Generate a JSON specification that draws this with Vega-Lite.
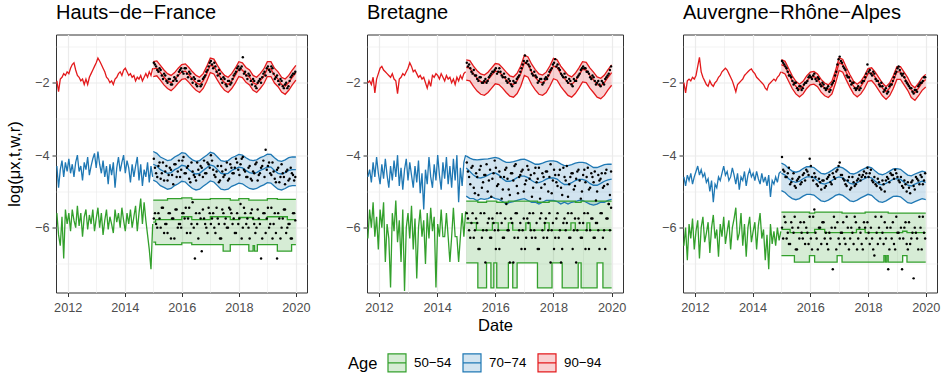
{
"$schema": "https://vega.github.io/schema/vega-lite/v6.json",
"padding": {"left": 6, "top": 2.5, "right": 2, "bottom": 2},
"config": {
 "font": "Liberation Sans",
 "view": {"stroke": "#333333", "strokeWidth": 1},
 "axis": {"domain": false, "grid": true, "gridColor": "#ebebeb", "ticks": true, "tickColor": "#333333", "tickSize": 4, "tickWidth": 1, "labelColor": "#4d4d4d", "labelFontSize": 12.7, "labelFont": "Liberation Sans", "labelOverlap": false, "labelFlush": false, "titleFont": "Liberation Sans", "titleFontSize": 16.5, "titleFontWeight": "normal", "titleColor": "#000000"},
 "title": {"anchor": "start", "fontSize": 20, "fontWeight": "normal", "font": "Liberation Sans", "color": "#000000", "offset": 11.5, "frame": "group"},
 "legend": {"labelFont": "Liberation Sans", "titleFont": "Liberation Sans"}
},
"spacing": 60,
"bounds": "flush",
"resolve": {"scale": {"color": "shared"}, "legend": {"color": "shared"}},
"datasets": {
"Hp": [
{"t":11.62,"g":-5.6,"b":-4.3,"r":-1.95},{"t":11.68,"g":-6.2,"b":-4.9,"r":-2.25},{"t":11.74,"g":-6.5,"b":-4.4,"r":-1.9},{"t":11.8,"g":-5.7,"b":-4.15,"r":-1.85},{"t":11.86,"g":-6.85,"b":-4.6,"r":-1.75},{"t":11.92,"g":-5.5,"b":-4.2,"r":-1.8},{"t":11.98,"g":-5.9,"b":-4.45,"r":-1.7},{"t":12.04,"g":-5.6,"b":-4.1,"r":-1.75},{"t":12.1,"g":-6.1,"b":-4.5,"r":-1.6},{"t":12.16,"g":-5.5,"b":-4.25,"r":-1.5},{"t":12.22,"g":-5.8,"b":-4.6,"r":-1.45},{"t":12.28,"g":-6,"b":-4.2,"r":-1.65},{"t":12.34,"g":-5.4,"b":-4,"r":-1.8},{"t":12.4,"g":-5.95,"b":-4.45,"r":-1.85},{"t":12.46,"g":-5.6,"b":-4.3,"r":-1.95},{"t":12.52,"g":-6.25,"b":-4.7,"r":-1.9},{"t":12.58,"g":-5.7,"b":-4.2,"r":-2.05},{"t":12.64,"g":-5.5,"b":-4.4,"r":-1.9},{"t":12.7,"g":-6.05,"b":-4.05,"r":-2.05},{"t":12.76,"g":-5.65,"b":-4.55,"r":-1.85},{"t":12.82,"g":-5.9,"b":-4.3,"r":-1.75},{"t":12.88,"g":-5.5,"b":-4.1,"r":-1.65},{"t":12.94,"g":-6.1,"b":-3.95,"r":-1.55},{"t":13,"g":-5.75,"b":-4.35,"r":-1.45},{"t":13.06,"g":-5.45,"b":-3.9,"r":-1.32},{"t":13.12,"g":-6,"b":-4.25,"r":-1.4},{"t":13.18,"g":-5.6,"b":-4.5,"r":-1.5},{"t":13.24,"g":-6.2,"b":-4.15,"r":-1.6},{"t":13.3,"g":-5.8,"b":-4.6,"r":-1.7},{"t":13.36,"g":-5.5,"b":-4.3,"r":-1.85},{"t":13.42,"g":-6.05,"b":-4.8,"r":-1.9},{"t":13.48,"g":-5.7,"b":-4.25,"r":-2},{"t":13.54,"g":-5.9,"b":-4.55,"r":-1.95},{"t":13.6,"g":-6.15,"b":-4.2,"r":-2.05},{"t":13.66,"g":-5.5,"b":-4.9,"r":-1.9},{"t":13.72,"g":-5.85,"b":-4.35,"r":-1.85},{"t":13.78,"g":-5.6,"b":-4.05,"r":-1.75},{"t":13.84,"g":-6,"b":-4.45,"r":-1.7},{"t":13.9,"g":-5.45,"b":-4.2,"r":-1.8},{"t":13.96,"g":-5.8,"b":-4,"r":-1.65},{"t":14.02,"g":-6.1,"b":-4.5,"r":-1.6},{"t":14.08,"g":-5.6,"b":-4.15,"r":-1.7},{"t":14.14,"g":-5.9,"b":-4.35,"r":-1.8},{"t":14.2,"g":-5.5,"b":-4.75,"r":-1.75},{"t":14.26,"g":-6,"b":-4.25,"r":-1.85},{"t":14.32,"g":-5.7,"b":-4.6,"r":-1.8},{"t":14.38,"g":-5.4,"b":-4.3,"r":-1.95},{"t":14.44,"g":-6.1,"b":-4.05,"r":-1.85},{"t":14.5,"g":-5.6,"b":-4.7,"r":-1.9},{"t":14.56,"g":-5.2,"b":-4.25,"r":-1.8},{"t":14.62,"g":-5.9,"b":-4.85,"r":-1.95},{"t":14.68,"g":-5.3,"b":-4.4,"r":-1.85},{"t":14.74,"g":-5.8,"b":-4.6,"r":-1.75},{"t":14.8,"g":-6.2,"b":-4.2,"r":-1.85},{"t":14.86,"g":-6.6,"b":-4.75,"r":-1.7},{"t":14.92,"g":-7.15,"b":-4.3,"r":-1.8},{"t":14.98,"g":-5.9,"b":-4.6,"r":-1.6}
],
"Hb": [
{"a":"r","t":15,"l":-1.83,"m":-1.62,"h":-1.42},{"a":"r","t":15.125,"l":-1.81,"m":-1.6,"h":-1.4},{"a":"r","t":15.25,"l":-1.93,"m":-1.72,"h":-1.52},{"a":"r","t":15.375,"l":-2.06,"m":-1.85,"h":-1.65},{"a":"r","t":15.5,"l":-2.16,"m":-1.95,"h":-1.75},{"a":"r","t":15.625,"l":-2.22,"m":-2,"h":-1.8},{"a":"r","t":15.75,"l":-2.13,"m":-1.92,"h":-1.72},{"a":"r","t":15.875,"l":-2.01,"m":-1.8,"h":-1.6},
{"a":"r","t":16,"l":-1.91,"m":-1.7,"h":-1.5},{"a":"r","t":16.125,"l":-1.89,"m":-1.68,"h":-1.48},{"a":"r","t":16.25,"l":-1.99,"m":-1.78,"h":-1.58},{"a":"r","t":16.375,"l":-2.11,"m":-1.9,"h":-1.7},{"a":"r","t":16.5,"l":-2.21,"m":-2,"h":-1.8},{"a":"r","t":16.625,"l":-2.27,"m":-2.05,"h":-1.85},{"a":"r","t":16.75,"l":-2.16,"m":-1.95,"h":-1.75},{"a":"r","t":16.875,"l":-1.96,"m":-1.75,"h":-1.55},
{"a":"r","t":17,"l":-1.72,"m":-1.52,"h":-1.32},{"a":"r","t":17.125,"l":-1.76,"m":-1.55,"h":-1.35},{"a":"r","t":17.25,"l":-1.93,"m":-1.72,"h":-1.52},{"a":"r","t":17.375,"l":-2.09,"m":-1.88,"h":-1.68},{"a":"r","t":17.5,"l":-2.21,"m":-2,"h":-1.8},{"a":"r","t":17.625,"l":-2.27,"m":-2.05,"h":-1.85},{"a":"r","t":17.75,"l":-2.16,"m":-1.95,"h":-1.75},{"a":"r","t":17.875,"l":-2.01,"m":-1.8,"h":-1.6},
{"a":"r","t":18,"l":-1.83,"m":-1.62,"h":-1.42},{"a":"r","t":18.125,"l":-1.86,"m":-1.65,"h":-1.45},{"a":"r","t":18.25,"l":-1.99,"m":-1.78,"h":-1.58},{"a":"r","t":18.375,"l":-2.06,"m":-1.85,"h":-1.65},{"a":"r","t":18.5,"l":-2.21,"m":-2,"h":-1.8},{"a":"r","t":18.625,"l":-2.27,"m":-2.05,"h":-1.85},{"a":"r","t":18.75,"l":-2.16,"m":-1.95,"h":-1.75},{"a":"r","t":18.875,"l":-2.03,"m":-1.82,"h":-1.62},
{"a":"r","t":19,"l":-1.83,"m":-1.62,"h":-1.42},{"a":"r","t":19.125,"l":-1.83,"m":-1.62,"h":-1.42},{"a":"r","t":19.25,"l":-2.01,"m":-1.8,"h":-1.6},{"a":"r","t":19.375,"l":-2.11,"m":-1.9,"h":-1.7},{"a":"r","t":19.5,"l":-2.26,"m":-2.05,"h":-1.85},{"a":"r","t":19.625,"l":-2.32,"m":-2.1,"h":-1.9},{"a":"r","t":19.75,"l":-2.21,"m":-2,"h":-1.8},{"a":"r","t":19.875,"l":-2.06,"m":-1.85,"h":-1.65},{"a":"r","t":20,"l":-1.93,"m":-1.72,"h":-1.52},
{"a":"b","t":15,"l":-4.69,"m":-4.25,"h":-3.9},{"a":"b","t":15.125,"l":-4.74,"m":-4.3,"h":-3.95},{"a":"b","t":15.25,"l":-4.84,"m":-4.4,"h":-4.05},{"a":"b","t":15.375,"l":-4.89,"m":-4.45,"h":-4.1},{"a":"b","t":15.5,"l":-4.94,"m":-4.5,"h":-4.15},{"a":"b","t":15.625,"l":-4.92,"m":-4.48,"h":-4.13},{"a":"b","t":15.75,"l":-4.84,"m":-4.4,"h":-4.05},{"a":"b","t":15.875,"l":-4.79,"m":-4.35,"h":-4},
{"a":"b","t":16,"l":-4.72,"m":-4.28,"h":-3.93},{"a":"b","t":16.125,"l":-4.74,"m":-4.3,"h":-3.95},{"a":"b","t":16.25,"l":-4.84,"m":-4.4,"h":-4.05},{"a":"b","t":16.375,"l":-4.92,"m":-4.48,"h":-4.13},{"a":"b","t":16.5,"l":-4.96,"m":-4.52,"h":-4.17},{"a":"b","t":16.625,"l":-4.94,"m":-4.5,"h":-4.15},{"a":"b","t":16.75,"l":-4.86,"m":-4.42,"h":-4.07},{"a":"b","t":16.875,"l":-4.79,"m":-4.35,"h":-4},
{"a":"b","t":17,"l":-4.71,"m":-4.27,"h":-3.92},{"a":"b","t":17.125,"l":-4.74,"m":-4.3,"h":-3.95},{"a":"b","t":17.25,"l":-4.84,"m":-4.4,"h":-4.05},{"a":"b","t":17.375,"l":-4.94,"m":-4.5,"h":-4.15},{"a":"b","t":17.5,"l":-4.96,"m":-4.52,"h":-4.17},{"a":"b","t":17.625,"l":-4.94,"m":-4.5,"h":-4.15},{"a":"b","t":17.75,"l":-4.86,"m":-4.42,"h":-4.07},{"a":"b","t":17.875,"l":-4.82,"m":-4.38,"h":-4.03},
{"a":"b","t":18,"l":-4.77,"m":-4.33,"h":-3.98},{"a":"b","t":18.125,"l":-4.79,"m":-4.35,"h":-4},{"a":"b","t":18.25,"l":-4.86,"m":-4.42,"h":-4.07},{"a":"b","t":18.375,"l":-4.92,"m":-4.48,"h":-4.13},{"a":"b","t":18.5,"l":-4.94,"m":-4.5,"h":-4.15},{"a":"b","t":18.625,"l":-4.92,"m":-4.48,"h":-4.13},{"a":"b","t":18.75,"l":-4.86,"m":-4.42,"h":-4.07},{"a":"b","t":18.875,"l":-4.82,"m":-4.38,"h":-4.03},
{"a":"b","t":19,"l":-4.76,"m":-4.32,"h":-3.97},{"a":"b","t":19.125,"l":-4.77,"m":-4.33,"h":-3.98},{"a":"b","t":19.25,"l":-4.86,"m":-4.42,"h":-4.07},{"a":"b","t":19.375,"l":-4.94,"m":-4.5,"h":-4.15},{"a":"b","t":19.5,"l":-4.96,"m":-4.52,"h":-4.17},{"a":"b","t":19.625,"l":-4.92,"m":-4.48,"h":-4.13},{"a":"b","t":19.75,"l":-4.86,"m":-4.42,"h":-4.07},{"a":"b","t":19.875,"l":-4.84,"m":-4.4,"h":-4.05},{"a":"b","t":20,"l":-4.84,"m":-4.4,"h":-4.05},
{"a":"g","t":15,"l":-6.4,"m":-5.85,"h":-5.24},{"a":"g","t":15.08,"l":-6.47,"m":-5.78,"h":-5.24},{"a":"g","t":15.5,"l":-6.47,"m":-5.78,"h":-5.2},{"a":"g","t":16,"l":-6.42,"m":-5.7,"h":-5.18},{"a":"g","t":16.35,"l":-6.47,"m":-5.78,"h":-5.22},{"a":"g","t":17,"l":-6.47,"m":-5.7,"h":-5.2},{"a":"g","t":17.45,"l":-6.65,"m":-5.7,"h":-5.2},{"a":"g","t":17.7,"l":-6.47,"m":-5.78,"h":-5.24},{"a":"g","t":18,"l":-6.47,"m":-5.72,"h":-5.2},{"a":"g","t":18.35,"l":-6.65,"m":-5.72,"h":-5.24},{"a":"g","t":18.5,"l":-6.5,"m":-5.78,"h":-5.24},{"a":"g","t":18.55,"l":-6.65,"m":-5.78,"h":-5.24},{"a":"g","t":18.65,"l":-6.47,"m":-5.78,"h":-5.24},{"a":"g","t":19,"l":-6.47,"m":-5.7,"h":-5.2},{"a":"g","t":19.35,"l":-6.65,"m":-5.7,"h":-5.22},{"a":"g","t":19.7,"l":-6.65,"m":-5.78,"h":-5.22},{"a":"g","t":19.85,"l":-6.47,"m":-5.78,"h":-5.22},{"a":"g","t":20,"l":-6.47,"m":-5.78,"h":-5.22}
],
"Hd": [
{"t":15.02,"g":-5.75,"b":-4.1,"r":-1.45},{"t":15.1,"g":-5.9,"b":-4.5,"r":-1.55},{"t":15.18,"g":-5.6,"b":-4.3,"r":-1.7},{"t":15.26,"g":-6,"b":-4.65,"r":-1.65},{"t":15.34,"g":-5.45,"b":-4.2,"r":-1.9},{"t":15.42,"g":-5.9,"b":-4.45,"r":-1.8},{"t":15.5,"g":-6.15,"b":-4.7,"r":-2},{"t":15.58,"g":-5.6,"b":-4.35,"r":-1.9},{"t":15.66,"g":-5.75,"b":-4.55,"r":-2.05},{"t":15.74,"g":-6.3,"b":-4.25,"r":-1.85},{"t":15.82,"g":-5.5,"b":-4.6,"r":-1.95},{"t":15.9,"g":-5.9,"b":-4.15,"r":-1.7},{"t":15.98,"g":-6,"b":-4.4,"r":-1.6},{"t":16.06,"g":-5.6,"b":-4.05,"r":-1.75},{"t":16.14,"g":-5.45,"b":-4.5,"r":-1.6},{"t":16.22,"g":-5.75,"b":-4.3,"r":-1.85},{"t":16.3,"g":-6.15,"b":-4.75,"r":-1.75},{"t":16.38,"g":-5.3,"b":-4.45,"r":-2},{"t":16.46,"g":-6.85,"b":-4.6,"r":-1.9},{"t":16.54,"g":-5.9,"b":-4.2,"r":-2.1},{"t":16.62,"g":-5.6,"b":-4.55,"r":-1.95},{"t":16.7,"g":-6.65,"b":-4.35,"r":-2.05},{"t":16.78,"g":-5.75,"b":-4.15,"r":-1.85},{"t":16.86,"g":-6,"b":-4.5,"r":-1.7},{"t":16.94,"g":-5.45,"b":-4.25,"r":-1.55},{"t":17.02,"g":-5.9,"b":-4,"r":-1.4},{"t":17.1,"g":-5.6,"b":-4.4,"r":-1.6},{"t":17.18,"g":-6.15,"b":-4.6,"r":-1.55},{"t":17.26,"g":-5.75,"b":-4.3,"r":-1.8},{"t":17.34,"g":-6.3,"b":-4.7,"r":-1.75},{"t":17.42,"g":-5.5,"b":-4.45,"r":-2},{"t":17.5,"g":-5.9,"b":-4.55,"r":-1.9},{"t":17.58,"g":-6,"b":-4.2,"r":-2.1},{"t":17.66,"g":-5.45,"b":-4.65,"r":-1.95},{"t":17.74,"g":-5.6,"b":-4.35,"r":-2},{"t":17.82,"g":-5.75,"b":-4.5,"r":-1.8},{"t":17.9,"g":-6.15,"b":-4.1,"r":-1.7},{"t":17.98,"g":-5.9,"b":-4.4,"r":-1.55},{"t":18.06,"g":-5.35,"b":-4.25,"r":-1.6},{"t":18.14,"g":-6,"b":-4.05,"r":-1.3},{"t":18.22,"g":-5.6,"b":-4.45,"r":-1.7},{"t":18.3,"g":-5.75,"b":-4.6,"r":-1.9},{"t":18.38,"g":-6.3,"b":-4.3,"r":-1.8},{"t":18.46,"g":-5.5,"b":-4.7,"r":-2.05},{"t":18.54,"g":-5.9,"b":-4.5,"r":-1.95},{"t":18.62,"g":-6,"b":-4.2,"r":-2.15},{"t":18.7,"g":-5.75,"b":-4.55,"r":-1.95},{"t":18.78,"g":-6.85,"b":-4.35,"r":-2},{"t":18.86,"g":-5.6,"b":-4.15,"r":-1.75},{"t":18.94,"g":-6.15,"b":-3.85,"r":-1.8},{"t":19.02,"g":-5.45,"b":-4.3,"r":-1.55},{"t":19.1,"g":-5.9,"b":-4.5,"r":-1.7},{"t":19.18,"g":-6.3,"b":-4.2,"r":-1.6},{"t":19.26,"g":-5.6,"b":-4.65,"r":-1.9},{"t":19.34,"g":-6.85,"b":-4.4,"r":-1.8},{"t":19.42,"g":-5.75,"b":-4.75,"r":-2.05},{"t":19.5,"g":-6,"b":-4.25,"r":-1.95},{"t":19.58,"g":-5.5,"b":-4.6,"r":-2.15},{"t":19.66,"g":-6.15,"b":-4.45,"r":-2},{"t":19.74,"g":-5.9,"b":-4.7,"r":-2.1},{"t":19.82,"g":-6.3,"b":-4.35,"r":-1.85},{"t":19.9,"g":-5.6,"b":-4.55,"r":-1.75},{"t":19.98,"g":-5.8,"b":-4.6,"r":-1.7},
{"t":15.06,"g":-5.6,"b":-4.35,"r":-1.5},{"t":15.14,"g":-6,"b":-4.6,"r":-1.65},{"t":15.22,"g":-5.75,"b":-4.2,"r":-1.6},{"t":15.3,"g":-5.45,"b":-4.5,"r":-1.8},{"t":15.38,"g":-6.15,"b":-4.7,"r":-1.75},{"t":15.46,"g":-5.9,"b":-4.3,"r":-1.95},{"t":15.54,"g":-5.6,"b":-4.55,"r":-1.9},{"t":15.62,"g":-6.3,"b":-4.4,"r":-2.05},{"t":15.7,"g":-5.75,"b":-4.8,"r":-1.95},{"t":15.78,"g":-5.5,"b":-4.25,"r":-1.9},{"t":15.86,"g":-6,"b":-4.45,"r":-1.8},{"t":15.94,"g":-5.9,"b":-4.6,"r":-1.65},{"t":16.02,"g":-5.6,"b":-4.15,"r":-1.7},{"t":16.1,"g":-5.75,"b":-4.5,"r":-1.6},{"t":16.18,"g":-6.15,"b":-4.35,"r":-1.75},{"t":16.26,"g":-5.45,"b":-4.65,"r":-1.7},{"t":16.34,"g":-5.9,"b":-4.2,"r":-1.9},{"t":16.42,"g":-6,"b":-4.55,"r":-1.85},{"t":16.5,"g":-5.6,"b":-4.7,"r":-2.05},{"t":16.58,"g":-6.3,"b":-4.4,"r":-1.95},{"t":16.66,"g":-5.75,"b":-4.3,"r":-2.1},{"t":16.74,"g":-5.5,"b":-4.6,"r":-1.9},{"t":16.82,"g":-5.9,"b":-4.5,"r":-1.8},{"t":16.9,"g":-6.15,"b":-4.2,"r":-1.65},{"t":16.98,"g":-5.6,"b":-4.35,"r":-1.45},{"t":17.06,"g":-5.75,"b":-4.15,"r":-1.5},{"t":17.14,"g":-6,"b":-4.55,"r":-1.45},{"t":17.22,"g":-5.45,"b":-4.45,"r":-1.7},{"t":17.3,"g":-5.9,"b":-4.75,"r":-1.65},{"t":17.38,"g":-6.3,"b":-4.3,"r":-1.9},{"t":17.46,"g":-5.6,"b":-4.6,"r":-1.85},{"t":17.54,"g":-5.75,"b":-4.4,"r":-2.05},{"t":17.62,"g":-6,"b":-4.7,"r":-1.95},{"t":17.7,"g":-5.5,"b":-4.25,"r":-2.05},{"t":17.78,"g":-5.9,"b":-4.5,"r":-1.9},{"t":17.86,"g":-6.15,"b":-4.35,"r":-1.75},{"t":17.94,"g":-5.6,"b":-4.2,"r":-1.6},{"t":18.02,"g":-5.75,"b":-4.55,"r":-1.65},{"t":18.1,"g":-6.3,"b":-4.1,"r":-1.55},{"t":18.18,"g":-5.45,"b":-4.4,"r":-1.75},{"t":18.26,"g":-5.9,"b":-4.6,"r":-1.8},{"t":18.34,"g":-6,"b":-4.35,"r":-1.75},{"t":18.42,"g":-5.6,"b":-4.65,"r":-1.95},{"t":18.5,"g":-5.75,"b":-4.45,"r":-1.9},{"t":18.58,"g":-6.15,"b":-4.25,"r":-2.1},{"t":18.66,"g":-5.5,"b":-4.7,"r":-2},{"t":18.74,"g":-5.9,"b":-4.5,"r":-1.9},{"t":18.82,"g":-6.3,"b":-4.3,"r":-1.85},{"t":18.9,"g":-5.6,"b":-4.6,"r":-1.7},{"t":18.98,"g":-5.75,"b":-4.4,"r":-1.6},{"t":19.06,"g":-6,"b":-4.2,"r":-1.65},{"t":19.14,"g":-5.45,"b":-4.55,"r":-1.55},{"t":19.22,"g":-5.9,"b":-4.45,"r":-1.75},{"t":19.3,"g":-6.15,"b":-4.75,"r":-1.85},{"t":19.38,"g":-5.6,"b":-4.35,"r":-1.95},{"t":19.46,"g":-6.3,"b":-4.6,"r":-1.9},{"t":19.54,"g":-5.75,"b":-4.5,"r":-2.1},{"t":19.62,"g":-5.5,"b":-4.8,"r":-2.05},{"t":19.7,"g":-6,"b":-4.4,"r":-2.15},{"t":19.78,"g":-5.9,"b":-4.65,"r":-1.95},{"t":19.86,"g":-6.3,"b":-4.5,"r":-1.8},{"t":19.94,"g":-5.6,"b":-4.7,"r":-1.75}
],
"Bp": [
{"t":11.62,"g":-6.3,"b":-4.6,"r":-2},{"t":11.68,"g":-5.5,"b":-4.4,"r":-1.95},{"t":11.74,"g":-6,"b":-4.75,"r":-2.05},{"t":11.8,"g":-5.3,"b":-4.2,"r":-1.85},{"t":11.86,"g":-6.25,"b":-4.6,"r":-2.28},{"t":11.92,"g":-5.7,"b":-4.05,"r":-1.9},{"t":11.98,"g":-6.6,"b":-4.5,"r":-1.75},{"t":12.04,"g":-5.5,"b":-4.8,"r":-1.6},{"t":12.1,"g":-6,"b":-4.25,"r":-1.55},{"t":12.16,"g":-5.3,"b":-4.65,"r":-1.65},{"t":12.22,"g":-6.95,"b":-4.1,"r":-1.7},{"t":12.28,"g":-5.9,"b":-4.55,"r":-1.75},{"t":12.34,"g":-6.3,"b":-4.9,"r":-1.8},{"t":12.4,"g":-7.65,"b":-4.3,"r":-1.85},{"t":12.46,"g":-5.6,"b":-4.7,"r":-1.75},{"t":12.52,"g":-6.1,"b":-4.15,"r":-1.9},{"t":12.58,"g":-5.25,"b":-4.6,"r":-1.95},{"t":12.64,"g":-6.4,"b":-4,"r":-2.3},{"t":12.7,"g":-5.8,"b":-4.85,"r":-1.9},{"t":12.76,"g":-6.95,"b":-4.35,"r":-1.85},{"t":12.82,"g":-5.5,"b":-4.95,"r":-1.75},{"t":12.88,"g":-7.75,"b":-4.4,"r":-1.8},{"t":12.94,"g":-6,"b":-4.1,"r":-1.7},{"t":13,"g":-5.6,"b":-4.7,"r":-1.6},{"t":13.06,"g":-6.3,"b":-4.2,"r":-1.45},{"t":13.12,"g":-5.4,"b":-4.55,"r":-1.55},{"t":13.18,"g":-6.6,"b":-4.9,"r":-1.7},{"t":13.24,"g":-5.75,"b":-4.3,"r":-1.65},{"t":13.3,"g":-7.4,"b":-4.75,"r":-1.75},{"t":13.36,"g":-6,"b":-4.15,"r":-1.85},{"t":13.42,"g":-5.5,"b":-5.05,"r":-1.8},{"t":13.48,"g":-6.25,"b":-4.5,"r":-1.9},{"t":13.54,"g":-5.8,"b":-5.5,"r":-1.85},{"t":13.6,"g":-7,"b":-4.4,"r":-2},{"t":13.66,"g":-5.6,"b":-4.8,"r":-2.15},{"t":13.72,"g":-6.3,"b":-4.05,"r":-1.95},{"t":13.78,"g":-5.45,"b":-4.6,"r":-2.1},{"t":13.84,"g":-6.1,"b":-4.9,"r":-1.8},{"t":13.9,"g":-5.7,"b":-4.25,"r":-1.85},{"t":13.96,"g":-7.65,"b":-4.7,"r":-1.75},{"t":14.02,"g":-5.9,"b":-4,"r":-1.8},{"t":14.08,"g":-6.25,"b":-4.55,"r":-1.9},{"t":14.14,"g":-5.5,"b":-4.95,"r":-1.75},{"t":14.2,"g":-6.25,"b":-4.2,"r":-1.85},{"t":14.26,"g":-6.25,"b":-4.65,"r":-1.95},{"t":14.32,"g":-5.6,"b":-4.05,"r":-1.8},{"t":14.38,"g":-6.25,"b":-4.8,"r":-1.9},{"t":14.44,"g":-6.95,"b":-4.3,"r":-1.85},{"t":14.5,"g":-6.25,"b":-4.9,"r":-2},{"t":14.56,"g":-5.45,"b":-4.1,"r":-1.9},{"t":14.62,"g":-6.25,"b":-4.7,"r":-2.05},{"t":14.68,"g":-6.25,"b":-4,"r":-1.85},{"t":14.74,"g":-6.95,"b":-5.3,"r":-1.95},{"t":14.8,"g":-6.25,"b":-4.35,"r":-1.8},{"t":14.86,"g":-5.6,"b":-4.85,"r":-1.9},{"t":14.92,"g":-6.25,"b":-4.2,"r":-1.75},{"t":14.98,"g":-5.55,"b":-4,"r":-1.7}
],
"Bb": [
{"a":"r","t":15,"l":-1.93,"m":-1.58,"h":-1.37},{"a":"r","t":15.125,"l":-1.95,"m":-1.6,"h":-1.39},{"a":"r","t":15.25,"l":-2.1,"m":-1.75,"h":-1.54},{"a":"r","t":15.375,"l":-2.23,"m":-1.88,"h":-1.67},{"a":"r","t":15.5,"l":-2.32,"m":-1.97,"h":-1.76},{"a":"r","t":15.625,"l":-2.35,"m":-2,"h":-1.79},{"a":"r","t":15.75,"l":-2.27,"m":-1.92,"h":-1.71},{"a":"r","t":15.875,"l":-2.15,"m":-1.8,"h":-1.59},
{"a":"r","t":16,"l":-2.03,"m":-1.68,"h":-1.47},{"a":"r","t":16.125,"l":-2.05,"m":-1.7,"h":-1.49},{"a":"r","t":16.25,"l":-2.15,"m":-1.8,"h":-1.59},{"a":"r","t":16.375,"l":-2.27,"m":-1.92,"h":-1.71},{"a":"r","t":16.5,"l":-2.37,"m":-2.02,"h":-1.81},{"a":"r","t":16.625,"l":-2.4,"m":-2.05,"h":-1.84},{"a":"r","t":16.75,"l":-2.3,"m":-1.95,"h":-1.74},{"a":"r","t":16.875,"l":-2.1,"m":-1.75,"h":-1.54},
{"a":"r","t":17,"l":-1.8,"m":-1.45,"h":-1.24},{"a":"r","t":17.125,"l":-1.85,"m":-1.5,"h":-1.29},{"a":"r","t":17.25,"l":-2.05,"m":-1.7,"h":-1.49},{"a":"r","t":17.375,"l":-2.2,"m":-1.85,"h":-1.64},{"a":"r","t":17.5,"l":-2.32,"m":-1.97,"h":-1.76},{"a":"r","t":17.625,"l":-2.35,"m":-2,"h":-1.79},{"a":"r","t":17.75,"l":-2.27,"m":-1.92,"h":-1.71},{"a":"r","t":17.875,"l":-2.1,"m":-1.75,"h":-1.54},
{"a":"r","t":18,"l":-1.89,"m":-1.54,"h":-1.33},{"a":"r","t":18.125,"l":-1.93,"m":-1.58,"h":-1.37},{"a":"r","t":18.25,"l":-2.1,"m":-1.75,"h":-1.54},{"a":"r","t":18.375,"l":-2.23,"m":-1.88,"h":-1.67},{"a":"r","t":18.5,"l":-2.35,"m":-2,"h":-1.79},{"a":"r","t":18.625,"l":-2.4,"m":-2.05,"h":-1.84},{"a":"r","t":18.75,"l":-2.3,"m":-1.95,"h":-1.74},{"a":"r","t":18.875,"l":-2.15,"m":-1.8,"h":-1.59},
{"a":"r","t":19,"l":-1.98,"m":-1.63,"h":-1.42},{"a":"r","t":19.125,"l":-2,"m":-1.65,"h":-1.44},{"a":"r","t":19.25,"l":-2.15,"m":-1.8,"h":-1.59},{"a":"r","t":19.375,"l":-2.27,"m":-1.92,"h":-1.71},{"a":"r","t":19.5,"l":-2.4,"m":-2.05,"h":-1.84},{"a":"r","t":19.625,"l":-2.44,"m":-2.09,"h":-1.88},{"a":"r","t":19.75,"l":-2.35,"m":-2,"h":-1.79},{"a":"r","t":19.875,"l":-2.2,"m":-1.85,"h":-1.64},{"a":"r","t":20,"l":-2.07,"m":-1.72,"h":-1.51},
{"a":"b","t":15,"l":-5.13,"m":-4.35,"h":-4.02},{"a":"b","t":15.125,"l":-5.2,"m":-4.45,"h":-4.08},{"a":"b","t":15.25,"l":-5.2,"m":-4.55,"h":-4.12},{"a":"b","t":15.375,"l":-5.25,"m":-4.62,"h":-4.13},{"a":"b","t":15.5,"l":-5.2,"m":-4.63,"h":-4.12},{"a":"b","t":15.625,"l":-5.22,"m":-4.6,"h":-4.11},{"a":"b","t":15.75,"l":-5.2,"m":-4.55,"h":-4.1},{"a":"b","t":15.875,"l":-5.15,"m":-4.5,"h":-4.08},
{"a":"b","t":16,"l":-5.2,"m":-4.49,"h":-4.06},{"a":"b","t":16.125,"l":-5.22,"m":-4.55,"h":-4.09},{"a":"b","t":16.25,"l":-5.28,"m":-4.65,"h":-4.15},{"a":"b","t":16.375,"l":-5.35,"m":-4.72,"h":-4.2},{"a":"b","t":16.5,"l":-5.3,"m":-4.72,"h":-4.2},{"a":"b","t":16.625,"l":-5.28,"m":-4.68,"h":-4.18},{"a":"b","t":16.75,"l":-5.25,"m":-4.62,"h":-4.15},{"a":"b","t":16.875,"l":-5.22,"m":-4.58,"h":-4.12},
{"a":"b","t":17,"l":-5.2,"m":-4.58,"h":-4.11},{"a":"b","t":17.125,"l":-5.25,"m":-4.62,"h":-4.15},{"a":"b","t":17.25,"l":-5.3,"m":-4.7,"h":-4.2},{"a":"b","t":17.375,"l":-5.3,"m":-4.76,"h":-4.25},{"a":"b","t":17.5,"l":-5.35,"m":-4.76,"h":-4.25},{"a":"b","t":17.625,"l":-5.3,"m":-4.72,"h":-4.22},{"a":"b","t":17.75,"l":-5.25,"m":-4.66,"h":-4.18},{"a":"b","t":17.875,"l":-5.25,"m":-4.63,"h":-4.16},
{"a":"b","t":18,"l":-5.25,"m":-4.63,"h":-4.16},{"a":"b","t":18.125,"l":-5.28,"m":-4.66,"h":-4.18},{"a":"b","t":18.25,"l":-5.35,"m":-4.75,"h":-4.24},{"a":"b","t":18.375,"l":-5.3,"m":-4.81,"h":-4.29},{"a":"b","t":18.5,"l":-5.35,"m":-4.81,"h":-4.29},{"a":"b","t":18.625,"l":-5.3,"m":-4.76,"h":-4.26},{"a":"b","t":18.75,"l":-5.28,"m":-4.7,"h":-4.22},{"a":"b","t":18.875,"l":-5.25,"m":-4.67,"h":-4.2},
{"a":"b","t":19,"l":-5.25,"m":-4.67,"h":-4.2},{"a":"b","t":19.125,"l":-5.3,"m":-4.7,"h":-4.22},{"a":"b","t":19.25,"l":-5.35,"m":-4.78,"h":-4.28},{"a":"b","t":19.375,"l":-5.38,"m":-4.83,"h":-4.34},{"a":"b","t":19.5,"l":-5.35,"m":-4.83,"h":-4.34},{"a":"b","t":19.625,"l":-5.3,"m":-4.78,"h":-4.3},{"a":"b","t":19.75,"l":-5.3,"m":-4.72,"h":-4.26},{"a":"b","t":19.875,"l":-5.25,"m":-4.68,"h":-4.25},{"a":"b","t":20,"l":-5.22,"m":-4.66,"h":-4.25},
{"a":"g","t":15,"l":-6.97,"m":-5.87,"h":-5.27},{"a":"g","t":15.35,"l":-6.97,"m":-6.07,"h":-5.27},{"a":"g","t":15.4,"l":-7.66,"m":-6.07,"h":-5.3},{"a":"g","t":15.7,"l":-6.97,"m":-6.07,"h":-5.27},{"a":"g","t":15.85,"l":-7.66,"m":-6.07,"h":-5.27},{"a":"g","t":15.9,"l":-7.66,"m":-5.87,"h":-5.27},{"a":"g","t":15.95,"l":-6.97,"m":-5.87,"h":-5.27},{"a":"g","t":16.05,"l":-7.66,"m":-5.87,"h":-5.3},{"a":"g","t":16.1,"l":-7.66,"m":-6.07,"h":-5.3},{"a":"g","t":16.45,"l":-6.97,"m":-5.87,"h":-5.27},{"a":"g","t":16.6,"l":-7.66,"m":-6.07,"h":-5.27},{"a":"g","t":16.75,"l":-6.97,"m":-6.07,"h":-5.27},{"a":"g","t":17.05,"l":-6.97,"m":-5.87,"h":-5.27},{"a":"g","t":17.2,"l":-6.97,"m":-6.07,"h":-5.27},{"a":"g","t":17.45,"l":-7.66,"m":-6.07,"h":-5.3},{"a":"g","t":17.7,"l":-7.66,"m":-5.87,"h":-5.3},{"a":"g","t":17.85,"l":-7.66,"m":-6.07,"h":-5.27},{"a":"g","t":17.95,"l":-6.97,"m":-6.07,"h":-5.27},{"a":"g","t":18.3,"l":-7.66,"m":-6.07,"h":-5.27},{"a":"g","t":18.6,"l":-7.66,"m":-5.87,"h":-5.27},{"a":"g","t":18.75,"l":-7.66,"m":-6.07,"h":-5.3},{"a":"g","t":18.85,"l":-6.97,"m":-6.07,"h":-5.3},{"a":"g","t":18.95,"l":-7.66,"m":-6.07,"h":-5.27},{"a":"g","t":19.15,"l":-7.66,"m":-5.87,"h":-5.27},{"a":"g","t":19.25,"l":-7.66,"m":-6.07,"h":-5.27},{"a":"g","t":19.5,"l":-6.97,"m":-6.07,"h":-5.27},{"a":"g","t":19.7,"l":-7.66,"m":-6.07,"h":-5.27},{"a":"g","t":20,"l":-7.66,"m":-6.07,"h":-5.27}
],
"Bd": [
{"t":15.02,"g":-5.6,"b":-4.2,"r":-1.45},{"t":15.1,"g":-6.07,"b":-4.6,"r":-1.5},{"t":15.18,"g":-5.87,"b":-4.35,"r":-1.7},{"t":15.26,"g":-6.28,"b":-4.9,"r":-1.65},{"t":15.34,"g":-5.75,"b":-4.5,"r":-1.8},{"t":15.42,"g":-6.59,"b":-5.1,"r":-1.95},{"t":15.5,"g":-5.6,"b":-4.3,"r":-1.85},{"t":15.58,"g":-6.07,"b":-4.75,"r":-2},{"t":15.66,"g":-6.96,"b":-4.55,"r":-1.9},{"t":15.74,"g":-5.87,"b":-5,"r":-1.95},{"t":15.82,"g":-6.28,"b":-4.4,"r":-1.8},{"t":15.9,"g":-5.75,"b":-4.65,"r":-1.7},{"t":15.98,"g":-6.07,"b":-4.15,"r":-1.65},{"t":16.06,"g":-5.6,"b":-4.85,"r":-1.75},{"t":16.14,"g":-6.59,"b":-4.45,"r":-1.6},{"t":16.22,"g":-5.87,"b":-5.2,"r":-1.8},{"t":16.3,"g":-6.28,"b":-4.6,"r":-1.75},{"t":16.38,"g":-5.35,"b":-4.35,"r":-1.95},{"t":16.46,"g":-6.07,"b":-4.95,"r":-1.9},{"t":16.54,"g":-5.75,"b":-4.5,"r":-2.05},{"t":16.62,"g":-6.96,"b":-4.7,"r":-1.95},{"t":16.7,"g":-5.6,"b":-4.25,"r":-2},{"t":16.78,"g":-6.28,"b":-5.05,"r":-1.85},{"t":16.86,"g":-5.87,"b":-4.55,"r":-1.7},{"t":16.94,"g":-6.07,"b":-4.4,"r":-1.5},{"t":17.02,"g":-6.59,"b":-4.8,"r":-1.25},{"t":17.1,"g":-5.75,"b":-4.3,"r":-1.4},{"t":17.18,"g":-5.6,"b":-4.65,"r":-1.55},{"t":17.26,"g":-6.28,"b":-5.15,"r":-1.75},{"t":17.34,"g":-6.07,"b":-4.5,"r":-1.7},{"t":17.42,"g":-5.87,"b":-4.75,"r":-1.85},{"t":17.5,"g":-6.59,"b":-4.35,"r":-1.95},{"t":17.58,"g":-5.6,"b":-4.9,"r":-1.9},{"t":17.66,"g":-6.28,"b":-4.6,"r":-2},{"t":17.74,"g":-5.75,"b":-4.45,"r":-1.85},{"t":17.82,"g":-6.07,"b":-5,"r":-1.8},{"t":17.9,"g":-6.96,"b":-4.25,"r":-1.65},{"t":17.98,"g":-5.87,"b":-4.7,"r":-1.5},{"t":18.06,"g":-6.28,"b":-4.55,"r":-1.35},{"t":18.14,"g":-5.6,"b":-4.85,"r":-1.5},{"t":18.22,"g":-6.07,"b":-4.4,"r":-1.65},{"t":18.3,"g":-6.59,"b":-5.1,"r":-1.8},{"t":18.38,"g":-5.75,"b":-4.6,"r":-1.75},{"t":18.46,"g":-5.87,"b":-4.3,"r":-1.95},{"t":18.54,"g":-6.28,"b":-4.8,"r":-1.9},{"t":18.62,"g":-5.6,"b":-4.5,"r":-2.05},{"t":18.7,"g":-6.07,"b":-4.95,"r":-1.9},{"t":18.78,"g":-6.96,"b":-4.65,"r":-1.95},{"t":18.86,"g":-5.75,"b":-4.4,"r":-1.8},{"t":18.94,"g":-6.28,"b":-5.2,"r":-1.65},{"t":19.02,"g":-5.87,"b":-4.55,"r":-1.55},{"t":19.1,"g":-6.59,"b":-4.75,"r":-1.6},{"t":19.18,"g":-5.6,"b":-4.35,"r":-1.7},{"t":19.26,"g":-6.07,"b":-4.9,"r":-1.85},{"t":19.34,"g":-5.75,"b":-4.6,"r":-1.8},{"t":19.42,"g":-6.28,"b":-4.45,"r":-1.95},{"t":19.5,"g":-5.87,"b":-5,"r":-2},{"t":19.58,"g":-6.59,"b":-4.7,"r":-2.05},{"t":19.66,"g":-5.6,"b":-4.5,"r":-1.95},{"t":19.74,"g":-6.07,"b":-4.85,"r":-2.05},{"t":19.82,"g":-5.75,"b":-4.4,"r":-1.85},{"t":19.9,"g":-5.35,"b":-5.35,"r":-1.75},{"t":19.98,"g":-5.45,"b":-4.45,"r":-1.55},
{"t":15.06,"g":-5.75,"b":-4.45,"r":-1.55},{"t":15.14,"g":-6.28,"b":-4.8,"r":-1.6},{"t":15.22,"g":-5.6,"b":-4.3,"r":-1.75},{"t":15.3,"g":-6.07,"b":-5.05,"r":-1.8},{"t":15.38,"g":-5.87,"b":-4.6,"r":-1.9},{"t":15.46,"g":-6.59,"b":-4.4,"r":-1.85},{"t":15.54,"g":-6.28,"b":-4.9,"r":-2},{"t":15.62,"g":-5.6,"b":-4.55,"r":-1.95},{"t":15.7,"g":-6.07,"b":-4.25,"r":-2},{"t":15.78,"g":-5.75,"b":-4.7,"r":-1.85},{"t":15.86,"g":-6.28,"b":-5.15,"r":-1.75},{"t":15.94,"g":-5.87,"b":-4.5,"r":-1.7},{"t":16.02,"g":-6.59,"b":-4.35,"r":-1.6},{"t":16.1,"g":-6.07,"b":-4.8,"r":-1.7},{"t":16.18,"g":-5.6,"b":-4.6,"r":-1.7},{"t":16.26,"g":-6.28,"b":-4.95,"r":-1.85},{"t":16.34,"g":-5.75,"b":-4.4,"r":-1.85},{"t":16.42,"g":-6.07,"b":-4.65,"r":-2},{"t":16.5,"g":-6.96,"b":-5.1,"r":-1.95},{"t":16.58,"g":-5.87,"b":-4.5,"r":-2.1},{"t":16.66,"g":-6.28,"b":-4.3,"r":-2},{"t":16.74,"g":-5.6,"b":-4.85,"r":-1.9},{"t":16.82,"g":-6.07,"b":-4.6,"r":-1.8},{"t":16.9,"g":-6.59,"b":-4.45,"r":-1.6},{"t":16.98,"g":-5.75,"b":-5,"r":-1.4},{"t":17.06,"g":-6.28,"b":-4.7,"r":-1.45},{"t":17.14,"g":-5.87,"b":-4.4,"r":-1.5},{"t":17.22,"g":-6.07,"b":-4.55,"r":-1.65},{"t":17.3,"g":-5.6,"b":-4.9,"r":-1.8},{"t":17.38,"g":-6.28,"b":-4.35,"r":-1.8},{"t":17.46,"g":-6.59,"b":-4.65,"r":-2},{"t":17.54,"g":-5.75,"b":-5.2,"r":-1.9},{"t":17.62,"g":-6.07,"b":-4.5,"r":-2.05},{"t":17.7,"g":-5.87,"b":-4.8,"r":-1.9},{"t":17.78,"g":-6.28,"b":-4.45,"r":-1.9},{"t":17.86,"g":-5.6,"b":-4.6,"r":-1.7},{"t":17.94,"g":-6.07,"b":-5.05,"r":-1.6},{"t":18.02,"g":-6.59,"b":-4.4,"r":-1.45},{"t":18.1,"g":-5.75,"b":-4.75,"r":-1.55},{"t":18.18,"g":-6.28,"b":-4.55,"r":-1.6},{"t":18.26,"g":-6.96,"b":-4.9,"r":-1.75},{"t":18.34,"g":-5.87,"b":-4.35,"r":-1.85},{"t":18.42,"g":-6.07,"b":-4.7,"r":-1.85},{"t":18.5,"g":-5.6,"b":-5.15,"r":-2},{"t":18.58,"g":-6.28,"b":-4.6,"r":-1.95},{"t":18.66,"g":-6.59,"b":-4.5,"r":-2.1},{"t":18.74,"g":-5.75,"b":-4.85,"r":-1.95},{"t":18.82,"g":-6.07,"b":-4.45,"r":-1.85},{"t":18.9,"g":-5.87,"b":-4.7,"r":-1.75},{"t":18.98,"g":-6.28,"b":-5,"r":-1.6},{"t":19.06,"g":-5.6,"b":-4.4,"r":-1.6},{"t":19.14,"g":-6.07,"b":-4.6,"r":-1.7},{"t":19.22,"g":-6.59,"b":-4.95,"r":-1.75},{"t":19.3,"g":-5.75,"b":-4.5,"r":-1.9},{"t":19.38,"g":-6.28,"b":-4.75,"r":-1.85},{"t":19.46,"g":-5.87,"b":-5.25,"r":-2.05},{"t":19.54,"g":-6.07,"b":-4.55,"r":-1.95},{"t":19.62,"g":-5.6,"b":-4.65,"r":-2.1},{"t":19.7,"g":-6.28,"b":-4.9,"r":-2},{"t":19.78,"g":-6.59,"b":-4.5,"r":-1.9},{"t":19.86,"g":-5.75,"b":-4.8,"r":-1.8},{"t":19.94,"g":-6.07,"b":-5.1,"r":-1.65}
],
"Ap": [
{"t":11.62,"g":-6.5,"b":-4.6,"r":-2},{"t":11.68,"g":-6,"b":-4.85,"r":-2.28},{"t":11.74,"g":-6.9,"b":-4.55,"r":-1.95},{"t":11.8,"g":-5.9,"b":-4.7,"r":-1.9},{"t":11.86,"g":-6.3,"b":-4.5,"r":-1.95},{"t":11.92,"g":-5.75,"b":-4.8,"r":-1.85},{"t":11.98,"g":-6.6,"b":-4.6,"r":-1.9},{"t":12.04,"g":-6.1,"b":-4.45,"r":-1.8},{"t":12.1,"g":-5.8,"b":-4.3,"r":-1.55},{"t":12.16,"g":-6.85,"b":-4.55,"r":-1.3},{"t":12.22,"g":-6,"b":-4.4,"r":-1.7},{"t":12.28,"g":-5.7,"b":-4.6,"r":-1.85},{"t":12.34,"g":-6.4,"b":-4.5,"r":-1.95},{"t":12.4,"g":-6.15,"b":-4.75,"r":-2.05},{"t":12.46,"g":-5.85,"b":-4.65,"r":-2.1},{"t":12.52,"g":-6.7,"b":-5,"r":-1.95},{"t":12.58,"g":-6,"b":-4.7,"r":-2.05},{"t":12.64,"g":-5.65,"b":-5.3,"r":-2.1},{"t":12.7,"g":-6.3,"b":-4.8,"r":-2},{"t":12.76,"g":-6.05,"b":-4.9,"r":-1.95},{"t":12.82,"g":-6.8,"b":-4.6,"r":-1.85},{"t":12.88,"g":-5.9,"b":-4.7,"r":-1.8},{"t":12.94,"g":-6.25,"b":-4.5,"r":-1.7},{"t":13,"g":-5.7,"b":-4.3,"r":-1.65},{"t":13.06,"g":-6.45,"b":-4.55,"r":-1.6},{"t":13.12,"g":-6.1,"b":-4.45,"r":-1.65},{"t":13.18,"g":-5.8,"b":-4.7,"r":-1.75},{"t":13.24,"g":-6.6,"b":-4.6,"r":-1.85},{"t":13.3,"g":-6,"b":-4.35,"r":-1.95},{"t":13.36,"g":-5.75,"b":-4.55,"r":-2.1},{"t":13.42,"g":-5.45,"b":-4.8,"r":-2.25},{"t":13.48,"g":-6.35,"b":-4.5,"r":-2.05},{"t":13.54,"g":-6.15,"b":-4.95,"r":-2},{"t":13.6,"g":-5.6,"b":-4.6,"r":-1.95},{"t":13.66,"g":-6.5,"b":-4.7,"r":-1.9},{"t":13.72,"g":-5.9,"b":-4.45,"r":-1.8},{"t":13.78,"g":-6.8,"b":-4.85,"r":-1.75},{"t":13.84,"g":-6,"b":-4.55,"r":-1.7},{"t":13.9,"g":-5.7,"b":-4.4,"r":-1.65},{"t":13.96,"g":-6.4,"b":-4.6,"r":-1.62},{"t":14.02,"g":-6.1,"b":-4.5,"r":-1.7},{"t":14.08,"g":-5.85,"b":-4.7,"r":-1.75},{"t":14.14,"g":-6.6,"b":-4.45,"r":-1.85},{"t":14.2,"g":-5.95,"b":-4.65,"r":-1.9},{"t":14.26,"g":-5.6,"b":-4.8,"r":-1.95},{"t":14.32,"g":-6.3,"b":-4.5,"r":-2},{"t":14.38,"g":-6.05,"b":-4.75,"r":-2.05},{"t":14.44,"g":-6.9,"b":-4.6,"r":-2.15},{"t":14.5,"g":-6.2,"b":-4.85,"r":-2.2},{"t":14.56,"g":-7.15,"b":-4.55,"r":-2.05},{"t":14.62,"g":-5.9,"b":-5.15,"r":-2},{"t":14.68,"g":-6.45,"b":-4.7,"r":-1.95},{"t":14.74,"g":-6.1,"b":-4.8,"r":-1.9},{"t":14.8,"g":-6.5,"b":-4.6,"r":-1.95},{"t":14.86,"g":-6,"b":-4.75,"r":-1.85},{"t":14.92,"g":-6.35,"b":-4.5,"r":-1.8},{"t":14.98,"g":-6.1,"b":-4.45,"r":-1.7}
],
"Ab": [
{"a":"r","t":15,"l":-1.71,"m":-1.5,"h":-1.36},{"a":"r","t":15.125,"l":-1.76,"m":-1.55,"h":-1.41},{"a":"r","t":15.25,"l":-1.96,"m":-1.75,"h":-1.61},{"a":"r","t":15.375,"l":-2.16,"m":-1.95,"h":-1.81},{"a":"r","t":15.5,"l":-2.31,"m":-2.1,"h":-1.96},{"a":"r","t":15.625,"l":-2.39,"m":-2.18,"h":-2.04},{"a":"r","t":15.75,"l":-2.31,"m":-2.1,"h":-1.96},{"a":"r","t":15.875,"l":-2.16,"m":-1.95,"h":-1.81},
{"a":"r","t":16,"l":-2.06,"m":-1.85,"h":-1.71},{"a":"r","t":16.125,"l":-2.04,"m":-1.83,"h":-1.69},{"a":"r","t":16.25,"l":-2.11,"m":-1.9,"h":-1.76},{"a":"r","t":16.375,"l":-2.26,"m":-2.05,"h":-1.91},{"a":"r","t":16.5,"l":-2.36,"m":-2.15,"h":-2.01},{"a":"r","t":16.625,"l":-2.41,"m":-2.2,"h":-2.06},{"a":"r","t":16.75,"l":-2.31,"m":-2.1,"h":-1.96},{"a":"r","t":16.875,"l":-2.01,"m":-1.8,"h":-1.66},
{"a":"r","t":17,"l":-1.66,"m":-1.45,"h":-1.31},{"a":"r","t":17.125,"l":-1.71,"m":-1.5,"h":-1.36},{"a":"r","t":17.25,"l":-1.93,"m":-1.72,"h":-1.58},{"a":"r","t":17.375,"l":-2.13,"m":-1.92,"h":-1.78},{"a":"r","t":17.5,"l":-2.31,"m":-2.1,"h":-1.96},{"a":"r","t":17.625,"l":-2.39,"m":-2.18,"h":-2.04},{"a":"r","t":17.75,"l":-2.31,"m":-2.1,"h":-1.96},{"a":"r","t":17.875,"l":-2.16,"m":-1.95,"h":-1.81},
{"a":"r","t":18,"l":-1.96,"m":-1.75,"h":-1.61},{"a":"r","t":18.125,"l":-1.94,"m":-1.73,"h":-1.59},{"a":"r","t":18.25,"l":-2.06,"m":-1.85,"h":-1.71},{"a":"r","t":18.375,"l":-2.21,"m":-2,"h":-1.86},{"a":"r","t":18.5,"l":-2.36,"m":-2.15,"h":-2.01},{"a":"r","t":18.625,"l":-2.46,"m":-2.25,"h":-2.11},{"a":"r","t":18.75,"l":-2.36,"m":-2.15,"h":-2.01},{"a":"r","t":18.875,"l":-2.16,"m":-1.95,"h":-1.81},
{"a":"r","t":19,"l":-1.91,"m":-1.7,"h":-1.56},{"a":"r","t":19.125,"l":-1.91,"m":-1.7,"h":-1.56},{"a":"r","t":19.25,"l":-2.06,"m":-1.85,"h":-1.71},{"a":"r","t":19.375,"l":-2.21,"m":-2,"h":-1.86},{"a":"r","t":19.5,"l":-2.41,"m":-2.2,"h":-2.06},{"a":"r","t":19.625,"l":-2.49,"m":-2.28,"h":-2.14},{"a":"r","t":19.75,"l":-2.36,"m":-2.15,"h":-2.01},{"a":"r","t":19.875,"l":-2.21,"m":-2,"h":-1.86},{"a":"r","t":20,"l":-2.12,"m":-1.91,"h":-1.77},
{"a":"b","t":15,"l":-4.98,"m":-4.5,"h":-4.22},{"a":"b","t":15.125,"l":-5.03,"m":-4.55,"h":-4.27},{"a":"b","t":15.25,"l":-5.13,"m":-4.65,"h":-4.37},{"a":"b","t":15.375,"l":-5.2,"m":-4.72,"h":-4.44},{"a":"b","t":15.5,"l":-5.23,"m":-4.75,"h":-4.47},{"a":"b","t":15.625,"l":-5.2,"m":-4.72,"h":-4.44},{"a":"b","t":15.75,"l":-5.13,"m":-4.65,"h":-4.37},{"a":"b","t":15.875,"l":-5.08,"m":-4.6,"h":-4.32},
{"a":"b","t":16,"l":-5.08,"m":-4.6,"h":-4.32},{"a":"b","t":16.125,"l":-5.1,"m":-4.62,"h":-4.34},{"a":"b","t":16.25,"l":-5.18,"m":-4.7,"h":-4.42},{"a":"b","t":16.375,"l":-5.26,"m":-4.78,"h":-4.5},{"a":"b","t":16.5,"l":-5.28,"m":-4.8,"h":-4.52},{"a":"b","t":16.625,"l":-5.24,"m":-4.76,"h":-4.48},{"a":"b","t":16.75,"l":-5.18,"m":-4.7,"h":-4.42},{"a":"b","t":16.875,"l":-5.11,"m":-4.63,"h":-4.35},
{"a":"b","t":17,"l":-5.08,"m":-4.6,"h":-4.32},{"a":"b","t":17.125,"l":-5.11,"m":-4.63,"h":-4.35},{"a":"b","t":17.25,"l":-5.18,"m":-4.7,"h":-4.42},{"a":"b","t":17.375,"l":-5.26,"m":-4.78,"h":-4.5},{"a":"b","t":17.5,"l":-5.28,"m":-4.8,"h":-4.52},{"a":"b","t":17.625,"l":-5.24,"m":-4.76,"h":-4.48},{"a":"b","t":17.75,"l":-5.18,"m":-4.7,"h":-4.42},{"a":"b","t":17.875,"l":-5.13,"m":-4.65,"h":-4.37},
{"a":"b","t":18,"l":-5.08,"m":-4.6,"h":-4.32},{"a":"b","t":18.125,"l":-5.11,"m":-4.63,"h":-4.35},{"a":"b","t":18.25,"l":-5.2,"m":-4.72,"h":-4.44},{"a":"b","t":18.375,"l":-5.28,"m":-4.8,"h":-4.52},{"a":"b","t":18.5,"l":-5.3,"m":-4.82,"h":-4.54},{"a":"b","t":18.625,"l":-5.26,"m":-4.78,"h":-4.5},{"a":"b","t":18.75,"l":-5.2,"m":-4.72,"h":-4.44},{"a":"b","t":18.875,"l":-5.14,"m":-4.66,"h":-4.38},
{"a":"b","t":19,"l":-5.13,"m":-4.65,"h":-4.37},{"a":"b","t":19.125,"l":-5.15,"m":-4.67,"h":-4.39},{"a":"b","t":19.25,"l":-5.23,"m":-4.75,"h":-4.47},{"a":"b","t":19.375,"l":-5.31,"m":-4.83,"h":-4.55},{"a":"b","t":19.5,"l":-5.33,"m":-4.85,"h":-4.57},{"a":"b","t":19.625,"l":-5.28,"m":-4.8,"h":-4.52},{"a":"b","t":19.75,"l":-5.24,"m":-4.76,"h":-4.48},{"a":"b","t":19.875,"l":-5.2,"m":-4.72,"h":-4.44},{"a":"b","t":20,"l":-5.23,"m":-4.75,"h":-4.47},
{"a":"g","t":15,"l":-6.77,"m":-6.05,"h":-5.57},{"a":"g","t":15.3,"l":-6.77,"m":-6.14,"h":-5.57},{"a":"g","t":15.45,"l":-6.95,"m":-6.14,"h":-5.57},{"a":"g","t":15.97,"l":-6.77,"m":-6.14,"h":-5.6},{"a":"g","t":16.15,"l":-6.95,"m":-6.05,"h":-5.57},{"a":"g","t":16.5,"l":-6.95,"m":-6.14,"h":-5.57},{"a":"g","t":16.93,"l":-6.77,"m":-6.14,"h":-5.57},{"a":"g","t":17.1,"l":-6.95,"m":-6.14,"h":-5.6},{"a":"g","t":17.6,"l":-6.95,"m":-6.05,"h":-5.6},{"a":"g","t":17.9,"l":-6.95,"m":-6.14,"h":-5.57},{"a":"g","t":18.55,"l":-6.77,"m":-6.14,"h":-5.57},{"a":"g","t":18.6,"l":-6.95,"m":-6.14,"h":-5.57},{"a":"g","t":18.65,"l":-6.77,"m":-6.14,"h":-5.57},{"a":"g","t":18.7,"l":-6.95,"m":-6.14,"h":-5.6},{"a":"g","t":19.2,"l":-6.77,"m":-6.1,"h":-5.6},{"a":"g","t":19.35,"l":-6.95,"m":-6.14,"h":-5.6},{"a":"g","t":20,"l":-6.95,"m":-6.14,"h":-5.6}
],
"Ad": [
{"t":15.02,"g":-6,"b":-4.05,"r":-1.4},{"t":15.1,"g":-5.7,"b":-4.45,"r":-1.5},{"t":15.18,"g":-6.3,"b":-4.6,"r":-1.6},{"t":15.26,"g":-6.45,"b":-4.35,"r":-1.8},{"t":15.34,"g":-5.85,"b":-4.75,"r":-1.85},{"t":15.42,"g":-6.14,"b":-4.5,"r":-2.05},{"t":15.5,"g":-6.6,"b":-4.9,"r":-2},{"t":15.58,"g":-6,"b":-4.65,"r":-2.2},{"t":15.66,"g":-5.85,"b":-4.8,"r":-2.1},{"t":15.74,"g":-6.3,"b":-4.55,"r":-2.15},{"t":15.82,"g":-6.45,"b":-4.7,"r":-2},{"t":15.9,"g":-6.14,"b":-4.45,"r":-1.95},{"t":15.98,"g":-5.7,"b":-4.1,"r":-1.8},{"t":16.06,"g":-6.6,"b":-4.6,"r":-1.9},{"t":16.14,"g":-5.5,"b":-4.5,"r":-1.75},{"t":16.22,"g":-6.3,"b":-4.8,"r":-1.95},{"t":16.3,"g":-6,"b":-4.65,"r":-1.9},{"t":16.38,"g":-6.45,"b":-4.95,"r":-2.1},{"t":16.46,"g":-5.85,"b":-4.7,"r":-2.05},{"t":16.54,"g":-6.14,"b":-4.85,"r":-2.2},{"t":16.62,"g":-6.6,"b":-4.6,"r":-2.1},{"t":16.7,"g":-6.3,"b":-4.75,"r":-2.2},{"t":16.78,"g":-7.15,"b":-4.5,"r":-2},{"t":16.86,"g":-6,"b":-4.65,"r":-1.8},{"t":16.94,"g":-5.85,"b":-4.4,"r":-1.5},{"t":17.02,"g":-6.45,"b":-4.2,"r":-1.28},{"t":17.1,"g":-6.14,"b":-4.55,"r":-1.45},{"t":17.18,"g":-6.3,"b":-4.7,"r":-1.6},{"t":17.26,"g":-5.7,"b":-4.85,"r":-1.8},{"t":17.34,"g":-6.6,"b":-4.6,"r":-1.85},{"t":17.42,"g":-6,"b":-4.9,"r":-2.05},{"t":17.5,"g":-6.45,"b":-4.75,"r":-2},{"t":17.58,"g":-5.85,"b":-4.8,"r":-2.2},{"t":17.66,"g":-6.3,"b":-4.65,"r":-2.1},{"t":17.74,"g":-6.14,"b":-4.7,"r":-2.15},{"t":17.82,"g":-6.6,"b":-4.55,"r":-1.95},{"t":17.9,"g":-6,"b":-4.6,"r":-1.85},{"t":17.98,"g":-5.85,"b":-4.35,"r":-1.5},{"t":18.06,"g":-6.45,"b":-4.5,"r":-1.65},{"t":18.14,"g":-6.3,"b":-4.7,"r":-1.8},{"t":18.22,"g":-6.77,"b":-4.6,"r":-1.75},{"t":18.3,"g":-6.14,"b":-4.85,"r":-1.95},{"t":18.38,"g":-6,"b":-4.75,"r":-2.05},{"t":18.46,"g":-5.7,"b":-4.95,"r":-2},{"t":18.54,"g":-6.45,"b":-4.8,"r":-2.25},{"t":18.62,"g":-6.3,"b":-4.7,"r":-2.15},{"t":18.7,"g":-7.15,"b":-4.65,"r":-2.25},{"t":18.78,"g":-6,"b":-4.5,"r":-2.05},{"t":18.86,"g":-5.85,"b":-4.55,"r":-1.95},{"t":18.94,"g":-6.6,"b":-4.4,"r":-1.75},{"t":19.02,"g":-6.14,"b":-4.6,"r":-1.6},{"t":19.1,"g":-6.3,"b":-4.75,"r":-1.65},{"t":19.18,"g":-7.15,"b":-4.85,"r":-1.8},{"t":19.26,"g":-6,"b":-4.7,"r":-1.85},{"t":19.34,"g":-6.45,"b":-5,"r":-2},{"t":19.42,"g":-5.85,"b":-4.9,"r":-2.1},{"t":19.5,"g":-6.3,"b":-4.75,"r":-2.15},{"t":19.58,"g":-7.4,"b":-4.85,"r":-2.3},{"t":19.66,"g":-6.14,"b":-4.6,"r":-2.2},{"t":19.74,"g":-6.6,"b":-4.7,"r":-2.1},{"t":19.82,"g":-6,"b":-4.55,"r":-2},{"t":19.9,"g":-5.7,"b":-4.8,"r":-1.95},{"t":19.98,"g":-6.3,"b":-4.5,"r":-1.85},
{"t":15.06,"g":-6.3,"b":-4.4,"r":-1.45},{"t":15.14,"g":-5.85,"b":-4.6,"r":-1.55},{"t":15.22,"g":-6.14,"b":-4.5,"r":-1.7},{"t":15.3,"g":-6.45,"b":-4.8,"r":-1.8},{"t":15.38,"g":-6,"b":-4.65,"r":-1.95},{"t":15.46,"g":-5.7,"b":-4.85,"r":-2},{"t":15.54,"g":-6.6,"b":-4.7,"r":-2.15},{"t":15.62,"g":-6.3,"b":-4.6,"r":-2.1},{"t":15.7,"g":-6.14,"b":-4.75,"r":-2.2},{"t":15.78,"g":-5.85,"b":-4.5,"r":-2.05},{"t":15.86,"g":-6,"b":-4.4,"r":-2},{"t":15.94,"g":-6.45,"b":-4.55,"r":-1.85},{"t":16.02,"g":-6.3,"b":-4.3,"r":-1.85},{"t":16.1,"g":-5.7,"b":-4.7,"r":-1.8},{"t":16.18,"g":-6.14,"b":-4.6,"r":-1.9},{"t":16.26,"g":-6.6,"b":-4.85,"r":-1.85},{"t":16.34,"g":-6,"b":-4.75,"r":-2.05},{"t":16.42,"g":-5.85,"b":-4.7,"r":-2},{"t":16.5,"g":-6.3,"b":-4.9,"r":-2.15},{"t":16.58,"g":-6.45,"b":-4.65,"r":-2.15},{"t":16.66,"g":-6.14,"b":-4.55,"r":-2.25},{"t":16.74,"g":-6,"b":-4.8,"r":-2.05},{"t":16.82,"g":-5.7,"b":-4.6,"r":-1.95},{"t":16.9,"g":-6.6,"b":-4.45,"r":-1.7},{"t":16.98,"g":-6.3,"b":-4.3,"r":-1.35},{"t":17.06,"g":-6.14,"b":-4.55,"r":-1.4},{"t":17.14,"g":-5.85,"b":-4.65,"r":-1.55},{"t":17.22,"g":-6.45,"b":-4.8,"r":-1.65},{"t":17.3,"g":-6,"b":-4.7,"r":-1.85},{"t":17.38,"g":-6.3,"b":-4.95,"r":-1.95},{"t":17.46,"g":-6.14,"b":-4.6,"r":-2},{"t":17.54,"g":-5.7,"b":-4.85,"r":-2.15},{"t":17.62,"g":-6.6,"b":-4.7,"r":-2.15},{"t":17.7,"g":-6,"b":-4.55,"r":-2.2},{"t":17.78,"g":-6.45,"b":-4.6,"r":-2},{"t":17.86,"g":-5.85,"b":-4.45,"r":-1.95},{"t":17.94,"g":-6.3,"b":-4.5,"r":-1.75},{"t":18.02,"g":-6.14,"b":-4.6,"r":-1.7},{"t":18.1,"g":-6,"b":-4.4,"r":-1.75},{"t":18.18,"g":-6.6,"b":-4.75,"r":-1.7},{"t":18.26,"g":-5.7,"b":-4.8,"r":-1.9},{"t":18.34,"g":-6.45,"b":-4.65,"r":-1.95},{"t":18.42,"g":-6.3,"b":-4.9,"r":-2.1},{"t":18.5,"g":-6.14,"b":-4.7,"r":-2.1},{"t":18.58,"g":-5.85,"b":-5,"r":-2.2},{"t":18.66,"g":-6,"b":-4.6,"r":-2.3},{"t":18.74,"g":-6.6,"b":-4.75,"r":-2.1},{"t":18.82,"g":-6.3,"b":-4.55,"r":-2.05},{"t":18.9,"g":-6.45,"b":-4.65,"r":-1.85},{"t":18.98,"g":-5.7,"b":-4.5,"r":-1.7},{"t":19.06,"g":-6.14,"b":-4.7,"r":-1.55},{"t":19.14,"g":-6,"b":-4.6,"r":-1.75},{"t":19.22,"g":-6.3,"b":-4.9,"r":-1.75},{"t":19.3,"g":-5.85,"b":-4.8,"r":-1.95},{"t":19.38,"g":-6.6,"b":-4.75,"r":-2.05},{"t":19.46,"g":-6.45,"b":-5.05,"r":-2.15},{"t":19.54,"g":-6.14,"b":-4.7,"r":-2.25},{"t":19.62,"g":-6,"b":-4.95,"r":-2.2},{"t":19.7,"g":-6.3,"b":-4.65,"r":-2.25},{"t":19.78,"g":-5.7,"b":-4.8,"r":-2.05},{"t":19.86,"g":-6.6,"b":-4.6,"r":-2},{"t":19.94,"g":-6.14,"b":-4.7,"r":-1.85}
]
},
"hconcat": [
{
 "width": 251, "height": 258,
 "title": {"text": "Hauts−de−France"},
 "encoding": {
  "x": {"field": "t", "type": "quantitative", "scale": {"domain": [11.59, 20.39], "nice": false, "zero": false}, "axis": {"values": [12,13,14,15,16,17,18,19,20], "format": "d", "labelExpr": "datum.value % 2 == 0 ? '20' + datum.label : ''", "gridWidth": {"condition": {"test": "datum.value % 2 == 0", "value": 1.2}, "value": 0.6}, "tickOpacity": {"condition": {"test": "datum.value % 2 == 0", "value": 1}, "value": 0}, "labelPadding": 5, "title": null}},
  "color": {"field": "a", "type": "nominal", "scale": {"domain": ["g","b","r"], "range": ["#33a02c","#1f78b4","#e31a1c"]}, "legend": {"title": "Age", "orient": "none", "legendX": 292, "legendY": 318, "direction": "horizontal", "titleOrient": "left", "titleFontSize": 16.5, "titleFontWeight": "normal", "titleColor": "#000000", "titlePadding": 9, "titleBaseline": "middle", "labelFontSize": 13.3, "labelColor": "#000000", "labelOffset": 7, "columnPadding": 8, "symbolSize": 324, "symbolType": "M-1,-1H1V1H-1Z M-1,0H1", "labelExpr": "datum.label == 'g' ? '50−54' : datum.label == 'b' ? '70−74' : '90−94'", "encode": {"symbols": {"update": {"fill": {"scale": "color", "field": "value"}, "fillOpacity": {"value": 0.2}, "stroke": {"scale": "color", "field": "value"}, "strokeWidth": {"value": 1.2}, "opacity": {"value": 1}}}}}}
 },
 "layer": [
  {"data": {"name": "Hb"}, "transform": [{"filter": "datum.a != 'g'"}], "mark": {"type": "area", "fillOpacity": 0.2, "opacity": 1}, "encoding": {"y": {"field": "l", "type": "quantitative", "scale": {"domain": [-7.79, -0.67], "nice": false, "zero": false}, "axis": {"values": [-7,-6,-5,-4,-3,-2,-1], "format": "d", "labelExpr": "datum.value % 2 == 0 ? datum.label : ''", "gridWidth": {"condition": {"test": "datum.value % 2 == 0", "value": 1.2}, "value": 0.6}, "tickOpacity": {"condition": {"test": "datum.value % 2 == 0", "value": 1}, "value": 0}, "labelPadding": 3, "title": "log(μx,t,w,r)", "titlePadding": 12}}, "y2": {"field": "h"}}},
  {"data": {"name": "Hb"}, "transform": [{"filter": "datum.a == 'g'"}], "mark": {"type": "area", "fillOpacity": 0.2, "opacity": 1, "interpolate": "step-after"}, "encoding": {"y": {"field": "l", "type": "quantitative"}, "y2": {"field": "h"}}},
  {"data": {"name": "Hb"}, "transform": [{"filter": "datum.a != 'g'"}, {"fold": ["l","m","h"], "as": ["k","y"]}], "mark": {"type": "line", "strokeWidth": 1.3}, "encoding": {"y": {"field": "y", "type": "quantitative"}, "detail": {"field": "k", "type": "nominal"}}},
  {"data": {"name": "Hb"}, "transform": [{"filter": "datum.a == 'g'"}, {"fold": ["l","m","h"], "as": ["k","y"]}], "mark": {"type": "line", "strokeWidth": 1.3, "interpolate": "step-after"}, "encoding": {"y": {"field": "y", "type": "quantitative"}, "detail": {"field": "k", "type": "nominal"}}},
  {"data": {"name": "Hp"}, "transform": [{"fold": ["g","b","r"], "as": ["a","v"]}], "mark": {"type": "line", "strokeWidth": 1.3}, "encoding": {"y": {"field": "v", "type": "quantitative"}}},
  {"data": {"name": "Hd"}, "transform": [{"fold": ["g","b","r"], "as": ["a","v"]}], "mark": {"type": "point", "filled": true, "size": 6, "opacity": 1, "strokeWidth": 0}, "encoding": {"y": {"field": "v", "type": "quantitative"}, "color": {"value": "#000000"}}}
 ]
},
{
 "width": 256, "height": 258,
 "title": {"text": "Bretagne"},
 "encoding": {
  "x": {"field": "t", "type": "quantitative", "scale": {"domain": [11.59, 20.39], "nice": false, "zero": false}, "axis": {"values": [12,13,14,15,16,17,18,19,20], "format": "d", "labelExpr": "datum.value % 2 == 0 ? '20' + datum.label : ''", "gridWidth": {"condition": {"test": "datum.value % 2 == 0", "value": 1.2}, "value": 0.6}, "tickOpacity": {"condition": {"test": "datum.value % 2 == 0", "value": 1}, "value": 0}, "labelPadding": 5, "title": "Date", "titlePadding": 3}},
  "color": {"field": "a", "type": "nominal", "scale": {"domain": ["g","b","r"], "range": ["#33a02c","#1f78b4","#e31a1c"]}, "legend": {"title": "Age", "orient": "none", "legendX": 292, "legendY": 318, "direction": "horizontal", "titleOrient": "left", "titleFontSize": 16.5, "titleFontWeight": "normal", "titleColor": "#000000", "titlePadding": 9, "titleBaseline": "middle", "labelFontSize": 13.3, "labelColor": "#000000", "labelOffset": 7, "columnPadding": 8, "symbolSize": 324, "symbolType": "M-1,-1H1V1H-1Z M-1,0H1", "labelExpr": "datum.label == 'g' ? '50−54' : datum.label == 'b' ? '70−74' : '90−94'", "encode": {"symbols": {"update": {"fill": {"scale": "color", "field": "value"}, "fillOpacity": {"value": 0.2}, "stroke": {"scale": "color", "field": "value"}, "strokeWidth": {"value": 1.2}, "opacity": {"value": 1}}}}}}
 },
 "layer": [
  {"data": {"name": "Bb"}, "transform": [{"filter": "datum.a != 'g'"}], "mark": {"type": "area", "fillOpacity": 0.2, "opacity": 1}, "encoding": {"y": {"field": "l", "type": "quantitative", "scale": {"domain": [-7.79, -0.67], "nice": false, "zero": false}, "axis": {"values": [-7,-6,-5,-4,-3,-2,-1], "format": "d", "labelExpr": "datum.value % 2 == 0 ? datum.label : ''", "gridWidth": {"condition": {"test": "datum.value % 2 == 0", "value": 1.2}, "value": 0.6}, "tickOpacity": {"condition": {"test": "datum.value % 2 == 0", "value": 1}, "value": 0}, "labelPadding": 3, "title": null}}, "y2": {"field": "h"}}},
  {"data": {"name": "Bb"}, "transform": [{"filter": "datum.a == 'g'"}], "mark": {"type": "area", "fillOpacity": 0.2, "opacity": 1, "interpolate": "step-after"}, "encoding": {"y": {"field": "l", "type": "quantitative"}, "y2": {"field": "h"}}},
  {"data": {"name": "Bb"}, "transform": [{"filter": "datum.a != 'g'"}, {"fold": ["l","m","h"], "as": ["k","y"]}], "mark": {"type": "line", "strokeWidth": 1.3}, "encoding": {"y": {"field": "y", "type": "quantitative"}, "detail": {"field": "k", "type": "nominal"}}},
  {"data": {"name": "Bb"}, "transform": [{"filter": "datum.a == 'g'"}, {"fold": ["l","m","h"], "as": ["k","y"]}], "mark": {"type": "line", "strokeWidth": 1.3, "interpolate": "step-after"}, "encoding": {"y": {"field": "y", "type": "quantitative"}, "detail": {"field": "k", "type": "nominal"}}},
  {"data": {"name": "Bp"}, "transform": [{"fold": ["g","b","r"], "as": ["a","v"]}], "mark": {"type": "line", "strokeWidth": 1.3}, "encoding": {"y": {"field": "v", "type": "quantitative"}}},
  {"data": {"name": "Bd"}, "transform": [{"fold": ["g","b","r"], "as": ["a","v"]}], "mark": {"type": "point", "filled": true, "size": 6, "opacity": 1, "strokeWidth": 0}, "encoding": {"y": {"field": "v", "type": "quantitative"}, "color": {"value": "#000000"}}}
 ]
},
{
 "width": 254, "height": 258,
 "title": {"text": "Auvergne−Rhône−Alpes"},
 "encoding": {
  "x": {"field": "t", "type": "quantitative", "scale": {"domain": [11.59, 20.39], "nice": false, "zero": false}, "axis": {"values": [12,13,14,15,16,17,18,19,20], "format": "d", "labelExpr": "datum.value % 2 == 0 ? '20' + datum.label : ''", "gridWidth": {"condition": {"test": "datum.value % 2 == 0", "value": 1.2}, "value": 0.6}, "tickOpacity": {"condition": {"test": "datum.value % 2 == 0", "value": 1}, "value": 0}, "labelPadding": 5, "title": null}},
  "color": {"field": "a", "type": "nominal", "scale": {"domain": ["g","b","r"], "range": ["#33a02c","#1f78b4","#e31a1c"]}, "legend": {"title": "Age", "orient": "none", "legendX": 292, "legendY": 318, "direction": "horizontal", "titleOrient": "left", "titleFontSize": 16.5, "titleFontWeight": "normal", "titleColor": "#000000", "titlePadding": 9, "titleBaseline": "middle", "labelFontSize": 13.3, "labelColor": "#000000", "labelOffset": 7, "columnPadding": 8, "symbolSize": 324, "symbolType": "M-1,-1H1V1H-1Z M-1,0H1", "labelExpr": "datum.label == 'g' ? '50−54' : datum.label == 'b' ? '70−74' : '90−94'", "encode": {"symbols": {"update": {"fill": {"scale": "color", "field": "value"}, "fillOpacity": {"value": 0.2}, "stroke": {"scale": "color", "field": "value"}, "strokeWidth": {"value": 1.2}, "opacity": {"value": 1}}}}}}
 },
 "layer": [
  {"data": {"name": "Ab"}, "transform": [{"filter": "datum.a != 'g'"}], "mark": {"type": "area", "fillOpacity": 0.2, "opacity": 1}, "encoding": {"y": {"field": "l", "type": "quantitative", "scale": {"domain": [-7.79, -0.67], "nice": false, "zero": false}, "axis": {"values": [-7,-6,-5,-4,-3,-2,-1], "format": "d", "labelExpr": "datum.value % 2 == 0 ? datum.label : ''", "gridWidth": {"condition": {"test": "datum.value % 2 == 0", "value": 1.2}, "value": 0.6}, "tickOpacity": {"condition": {"test": "datum.value % 2 == 0", "value": 1}, "value": 0}, "labelPadding": 3, "title": null}}, "y2": {"field": "h"}}},
  {"data": {"name": "Ab"}, "transform": [{"filter": "datum.a == 'g'"}], "mark": {"type": "area", "fillOpacity": 0.2, "opacity": 1, "interpolate": "step-after"}, "encoding": {"y": {"field": "l", "type": "quantitative"}, "y2": {"field": "h"}}},
  {"data": {"name": "Ab"}, "transform": [{"filter": "datum.a != 'g'"}, {"fold": ["l","m","h"], "as": ["k","y"]}], "mark": {"type": "line", "strokeWidth": 1.3}, "encoding": {"y": {"field": "y", "type": "quantitative"}, "detail": {"field": "k", "type": "nominal"}}},
  {"data": {"name": "Ab"}, "transform": [{"filter": "datum.a == 'g'"}, {"fold": ["l","m","h"], "as": ["k","y"]}], "mark": {"type": "line", "strokeWidth": 1.3, "interpolate": "step-after"}, "encoding": {"y": {"field": "y", "type": "quantitative"}, "detail": {"field": "k", "type": "nominal"}}},
  {"data": {"name": "Ap"}, "transform": [{"fold": ["g","b","r"], "as": ["a","v"]}], "mark": {"type": "line", "strokeWidth": 1.3}, "encoding": {"y": {"field": "v", "type": "quantitative"}}},
  {"data": {"name": "Ad"}, "transform": [{"fold": ["g","b","r"], "as": ["a","v"]}], "mark": {"type": "point", "filled": true, "size": 6, "opacity": 1, "strokeWidth": 0}, "encoding": {"y": {"field": "v", "type": "quantitative"}, "color": {"value": "#000000"}}}
 ]
}
]
}
